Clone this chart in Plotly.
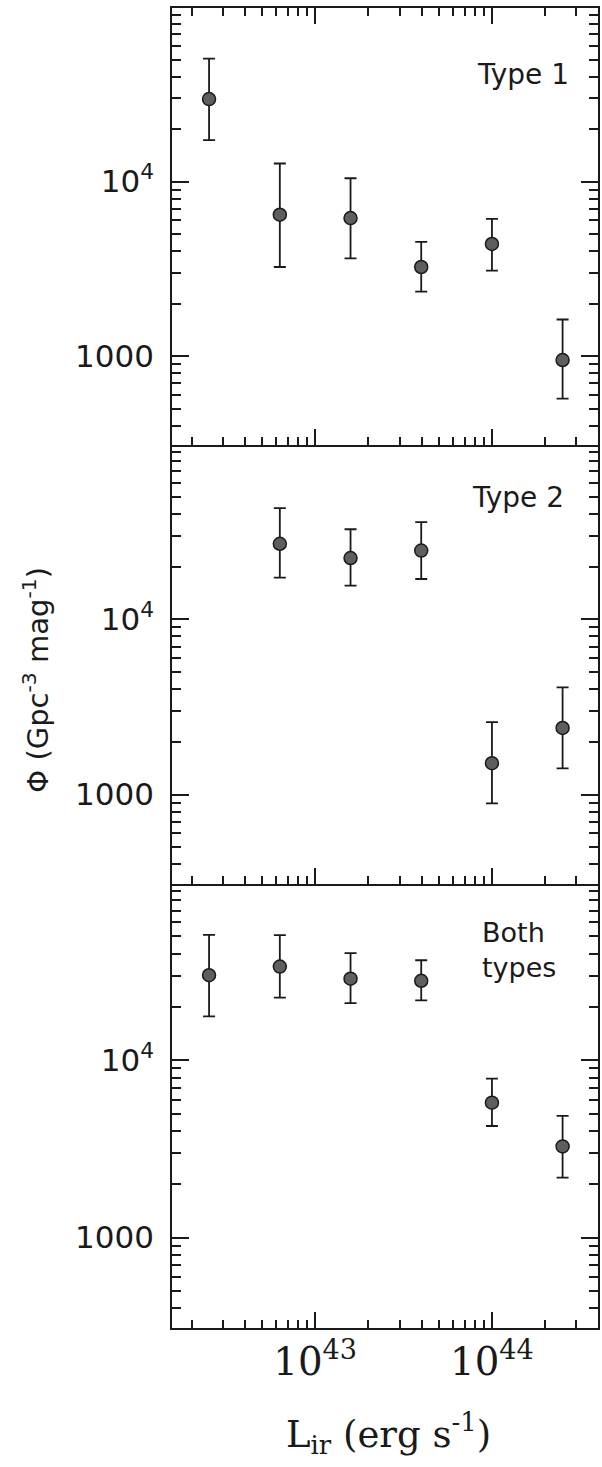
import plotly.graph_objects as go

# ---------------- data ----------------
lum = [2.51e42, 6.31e42, 1.585e43, 3.98e43, 1.0e44, 2.51e44]

type1_x = lum
type1_y = [29700, 6460, 6180, 3240, 4390, 949]
type1_hi = [50700, 12700, 10450, 4510, 6120, 1620]
type1_lo = [17300, 3240, 3630, 2340, 3090, 571]

type2_x = [6.31e42, 1.585e43, 3.98e43, 1.0e44, 2.51e44]
type2_y = [27000, 22400, 24700, 1510, 2400]
type2_hi = [43200, 32700, 35900, 2590, 4090]
type2_lo = [17300, 15600, 17000, 890, 1410]

both_x = lum
both_y = [30200, 33800, 28900, 28100, 5770, 3270]
both_hi = [51000, 50800, 40300, 36700, 7890, 4860]
both_lo = [17700, 22600, 21000, 21800, 4260, 2180]

NB = "\u00a0"
y_label_alias = {"1000": "1000" + NB, "10k": "10<sup>4</sup>" + NB}

panel_labels = ["Type 1", "Type 2", "Both<br>types"]

INK = "#1a1a1a"
MARK = "#5e5e5e"
XR = [42.19, 44.60]
YR = [2.49, 4.995]

fig = go.Figure()


def aid(n):
    return "" if n == 1 else str(n)


def add_series(x, y, hi, lo, idx):
    fig.add_trace(go.Scatter(
        x=x, y=y, mode="markers",
        marker=dict(size=13, color=MARK, line=dict(width=1.5, color=INK)),
        error_y=dict(type="data", symmetric=False,
                     array=[h - v for h, v in zip(hi, y)],
                     arrayminus=[v - l for v, l in zip(y, lo)],
                     color=INK, thickness=1.8, width=6),
        xaxis="x" + aid(idx), yaxis="y" + aid(idx),
        showlegend=False,
    ))


add_series(type1_x, type1_y, type1_hi, type1_lo, 1)
add_series(type2_x, type2_y, type2_hi, type2_lo, 2)
add_series(both_x, both_y, both_hi, both_lo, 3)

domains = {1: [0.6689, 1.0], 2: [0.3364, 0.6689], 3: [0.0, 0.3364]}

layout = dict(
    width=602, height=1467,
    margin=dict(l=172, r=2, t=8, b=139),
    plot_bgcolor="white",
    showlegend=False,
)

for i in (1, 2, 3):
    xs = aid(i)
    layout["xaxis" + xs] = dict(
        type="log", range=XR, anchor="y" + xs,
        showline=True, linewidth=2, linecolor=INK,
        mirror="allticks" if i == 1 else False,
        ticks="inside", ticklen=16, tickwidth=2, tickcolor=INK,
        dtick=1, exponentformat="power",
        showticklabels=(i == 3),
        tickfont=dict(family="DejaVu Serif", size=31, color=INK),
        minor=dict(ticks="inside", ticklen=8, tickwidth=2,
                   tickcolor=INK, dtick="D1"),
        showgrid=False, zeroline=False,
    )
    layout["yaxis" + xs] = dict(
        type="log", range=YR, domain=domains[i], anchor="x" + xs,
        showline=True, linewidth=2, linecolor=INK, mirror="allticks",
        ticks="inside", ticklen=17, tickwidth=2, tickcolor=INK,
        dtick=1, labelalias=y_label_alias,
        tickfont=dict(family="DejaVu Sans", size=31, color=INK),
        minor=dict(ticks="inside", ticklen=9, tickwidth=2,
                   tickcolor=INK, dtick="D1"),
        showgrid=False, zeroline=False,
    )

fig.update_layout(**layout)

label_font = dict(family="DejaVu Sans", size=28, color=INK)
fig.add_annotation(text=panel_labels[0], xref="paper", yref="paper",
                   x=0.937, y=0.950, xanchor="right", yanchor="middle",
                   showarrow=False, font=label_font)
fig.add_annotation(text=panel_labels[1], xref="paper", yref="paper",
                   x=0.925, y=0.6295, xanchor="right", yanchor="middle",
                   showarrow=False, font=label_font)
fig.add_annotation(text=panel_labels[2], xref="paper", yref="paper",
                   x=0.722, y=0.286, xanchor="left", yanchor="middle",
                   align="left", showarrow=False,
                   font=dict(family="DejaVu Sans", size=27, color=INK))

# axis titles
fig.add_annotation(text="Φ (Gpc<sup>-3</sup> mag<sup>-1</sup>)",
                   xref="paper", yref="paper",
                   x=(35 - 172) / 428, y=(1328 - 680) / 1320,
                   xanchor="center", yanchor="middle", textangle=-90,
                   showarrow=False,
                   font=dict(family="DejaVu Sans", size=29, color=INK))
fig.add_annotation(text="L<sub>ir</sub> (erg s<sup>-1</sup>)",
                   xref="paper", yref="paper",
                   x=(390 - 172) / 428, y=(1328 - 1433) / 1320,
                   xanchor="center", yanchor="middle",
                   showarrow=False,
                   font=dict(family="DejaVu Serif", size=37, color=INK))

fig.write_html("out.html")
